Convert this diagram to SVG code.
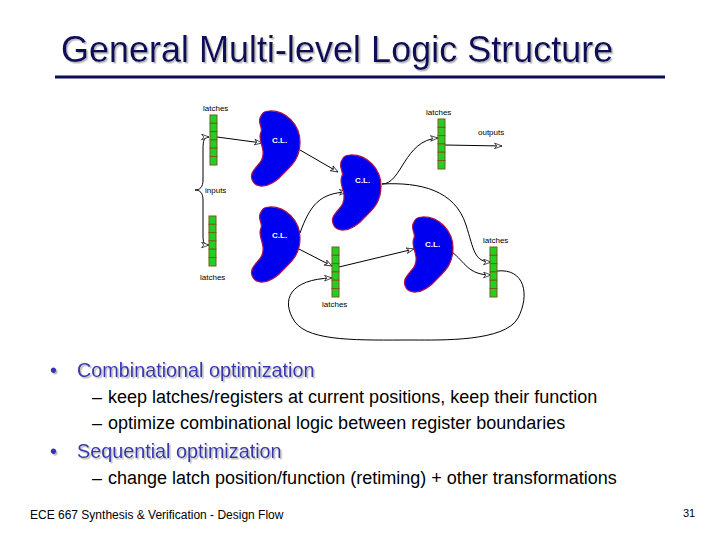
<svg xmlns="http://www.w3.org/2000/svg" width="720" height="540" viewBox="0 0 720 540">
<defs>
<style>
.lbl{font-family:"Liberation Sans",Arial,sans-serif;font-size:8px;fill:#000}
.cl{font-family:"Liberation Sans",Arial,sans-serif;font-size:8px;font-weight:bold;fill:#fff}
.blob{fill:#0000f0;stroke:#b0104a;stroke-width:1.2}
.cell{fill:#22d022;stroke:#7a5a1e;stroke-width:1}
.wire{fill:none;stroke:#000;stroke-width:1}
.title{font-family:"Liberation Sans",Arial,sans-serif;font-size:36px;fill:#0c0c5a}
.b1{font-family:"Liberation Sans",Arial,sans-serif;font-size:19.8px;fill:#3636b0}
.b2{font-family:"Liberation Sans",Arial,sans-serif;font-size:18px;fill:#000}
.foot{font-family:"Liberation Sans",Arial,sans-serif;font-size:12px;fill:#000}
</style>
<filter id="sh" x="-5%" y="-20%" width="110%" height="150%">
<feDropShadow dx="1.5" dy="1.5" stdDeviation="0.3" flood-color="#b8b8b8" flood-opacity="1"/>
</filter>
<marker id="ar" viewBox="0 0 10 8" refX="9" refY="4" markerWidth="9" markerHeight="7" orient="auto" markerUnits="userSpaceOnUse">
<path d="M0.5,0.8 L9,4 L0.5,7.2 L3,4 Z" fill="#fff" stroke="#000" stroke-width="0.8"/>
</marker>
<path id="kidney" d="M17,0 C34,-1 48,14 48,31 C48,47 40,54 33,61 C26,69 18,76 8,75 C0,74 -3,65 2,59 C6,53 12,50 11,40 C10,32 6,27 9,21 C11,17 6,13 8,7 C10,2 12,0 17,0 Z"/>
<g id="latchcells">
<rect class="cell" x="0" y="0" width="7" height="8.3"/>
<rect class="cell" x="0" y="8.3" width="7" height="8.3"/>
<rect class="cell" x="0" y="16.6" width="7" height="8.3"/>
<rect class="cell" x="0" y="24.9" width="7" height="8.3"/>
<rect class="cell" x="0" y="33.2" width="7" height="8.3"/>
<rect class="cell" x="0" y="41.5" width="7" height="8.5"/>
</g>
</defs>
<rect width="720" height="540" fill="#fff"/>

<g id="title">
<text class="title" x="61" y="62" filter="url(#sh)">General Multi-level Logic Structure</text>
<rect x="55" y="75.5" width="610" height="3" fill="#0c0c5a"/>
</g>

<g id="connectors">
<path class="wire" d="M195,190 C200,190 203,187 203,180 L203,150 C203,140 204,137 209,137" marker-end="url(#ar)"/>
<path class="wire" d="M195,190 C200,190 203,193 203,200 L203,235 C203,243 204,245 209,245" marker-end="url(#ar)"/>
<path class="wire" d="M217,137 L262,143" marker-end="url(#ar)"/>
<path class="wire" d="M300,150 L338,172" marker-end="url(#ar)"/>
<path class="wire" d="M300,233 C310,205 320,193 347,192" marker-end="url(#ar)"/>
<path class="wire" d="M297,248 L332,266" marker-end="url(#ar)"/>
<path class="wire" d="M339,267 L414,249" marker-end="url(#ar)"/>
<path class="wire" d="M382,184 C402,184 404,140 438,138" marker-end="url(#ar)"/>
<path class="wire" d="M445,145 L502,146" marker-end="url(#ar)"/>
<path class="wire" d="M382,184 C420,182 455,190 466,225 C474,250 474,262 491,262" marker-end="url(#ar)"/>
<path class="wire" d="M452,252 C465,262 468,275 491,275" marker-end="url(#ar)"/>
<path class="wire" d="M497,271 C525,268 530,295 518,318 C505,342 440,340 413,340 C360,340 310,342 295,322 C280,300 290,279 332,278" marker-end="url(#ar)"/>
</g>

<g id="latch1"><use href="#latchcells" x="210" y="115"/><text class="lbl" x="203" y="111">latches</text></g>
<g id="latch2"><use href="#latchcells" x="209" y="216"/><text class="lbl" x="200" y="280">latches</text></g>
<g id="latch3"><use href="#latchcells" x="438" y="119"/><text class="lbl" x="426" y="115">latches</text></g>
<g id="latch4"><use href="#latchcells" x="332" y="247"/><text class="lbl" x="322" y="307">latches</text></g>
<g id="latch5"><use href="#latchcells" x="490" y="247"/><text class="lbl" x="483" y="243">latches</text></g>
<g id="inputs"><text class="lbl" x="205" y="193">inputs</text></g>
<g id="outputs"><text class="lbl" x="478" y="135">outputs</text></g>

<g id="cl1"><use href="#kidney" class="blob" x="252" y="111"/><text class="cl" x="272" y="143">C.L.</text></g>
<g id="cl2"><use href="#kidney" class="blob" x="333" y="155"/><text class="cl" x="355" y="183">C.L.</text></g>
<g id="cl3"><use href="#kidney" class="blob" x="252" y="207"/><text class="cl" x="272" y="238">C.L.</text></g>
<g id="cl4"><use href="#kidney" class="blob" x="405" y="217"/><text class="cl" x="425" y="247">C.L.</text></g>

<g id="text">
<text class="b1" x="50" y="377" filter="url(#sh)">•</text>
<text class="b1" x="77" y="377" filter="url(#sh)">Combinational optimization</text>
<text class="b2" x="92" y="403">–</text>
<text class="b2" x="108" y="403">keep latches/registers at current positions, keep their function</text>
<text class="b2" x="92" y="429">–</text>
<text class="b2" x="108" y="429">optimize combinational logic between register boundaries</text>
<text class="b1" x="50" y="458" filter="url(#sh)">•</text>
<text class="b1" x="77" y="458" filter="url(#sh)">Sequential optimization</text>
<text class="b2" x="92" y="484">–</text>
<text class="b2" x="108" y="484">change latch position/function (retiming) + other transformations</text>
<text class="foot" x="30" y="519">ECE 667 Synthesis &amp; Verification - Design Flow</text>
<text class="foot" x="683" y="517" style="font-size:11px">31</text>
</g>
</svg>
